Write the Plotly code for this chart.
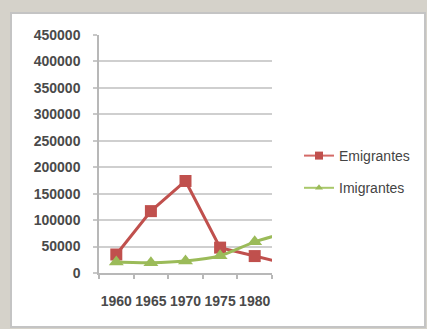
import plotly.graph_objects as go

# Data
years = [1960, 1965, 1970, 1975, 1980, 1985]
tick_years = [1960, 1965, 1970, 1975, 1980]
emigrantes = [35000, 117000, 174000, 48000, 32000, 16000]
imigrantes = [21000, 19500, 22500, 32500, 59000, 78000]
series_names = ["Emigrantes", "Imigrantes"]
y_ticks = [0, 50000, 100000, 150000, 200000, 250000, 300000, 350000, 400000, 450000]

RED = "#c0504d"
GREEN = "#9bbb59"
W, H = 427, 329
L, R, T, B = 99, 155, 35, 56
PW, PH = W - L - R, H - T - B


def px_x(p):
    return (p - L) / PW


def px_y(p):
    return (H - B - p) / PH


fig = go.Figure()

fig.add_trace(go.Scatter(
    x=years, y=emigrantes, name=series_names[0], mode="lines+markers",
    line=dict(color=RED, width=3),
    marker=dict(symbol="square", size=12, color=RED),
    showlegend=False,
))
fig.add_trace(go.Scatter(
    x=years, y=imigrantes, name=series_names[1], mode="lines+markers",
    line=dict(color=GREEN, width=3, shape="spline", smoothing=0.6),
    marker=dict(symbol="triangle-up", size=13, color=GREEN),
    showlegend=False,
))

# legend entries with smaller symbols
fig.add_trace(go.Scatter(
    x=[None], y=[None], name=series_names[0], mode="lines+markers",
    line=dict(color="#d46a67", width=2),
    marker=dict(symbol="square", size=8, color=RED),
    legendgroup="a",
))
fig.add_trace(go.Scatter(
    x=[None], y=[None], name=series_names[1], mode="lines+markers",
    line=dict(color="#a9c86a", width=2),
    marker=dict(symbol="triangle-up", size=7, color=GREEN),
    legendgroup="b",
))

axis_font = dict(family="Liberation Sans", size=14, color="#4a4a4a", weight="bold")

fig.update_layout(
    width=W, height=H,
    margin=dict(l=L, r=R, t=T, b=B, pad=0),
    paper_bgcolor="#d5d2ca",
    plot_bgcolor="white",
    showlegend=True,
    legend=dict(
        x=px_x(299), y=px_y(140), xanchor="left", yanchor="top",
        font=dict(family="Liberation Sans", size=14, color="#444444"),
        bgcolor="rgba(0,0,0,0)", tracegroupgap=11, traceorder="grouped",
    ),
    xaxis=dict(
        range=[1957.5, 1982.5], automargin=False,
        tickvals=tick_years, ticktext=[str(y) for y in tick_years],
        tickangle=0,
        ticks="", showgrid=False, zeroline=False,
        showline=True, linecolor="#b8b8b8", linewidth=1.5,
        tickfont=axis_font, ticklabelstandoff=14,
        minor=dict(tick0=1957.5, dtick=5, ticks="outside", ticklen=4,
                   tickcolor="#b8b8b8", tickwidth=1.5, showgrid=False),
    ),
    yaxis=dict(
        range=[0, 450000], automargin=False,
        tickvals=y_ticks, ticktext=[str(v) for v in y_ticks],
        ticks="outside", ticklen=4, tickcolor="#c8c8c8", tickwidth=1.5,
        showgrid=True, gridcolor="#cfcfcf", gridwidth=1.5,
        zeroline=False, showline=True, linecolor="#b8b8b8", linewidth=1.5,
        tickfont=axis_font, ticklabelstandoff=10,
    ),
    shapes=[dict(
        type="rect", xref="paper", yref="paper", layer="below",
        x0=px_x(11), x1=px_x(425), y0=px_y(327), y1=px_y(13),
        fillcolor="white", line=dict(color="#c4c4c4", width=2),
    )],
)

fig.write_html("out.html")
